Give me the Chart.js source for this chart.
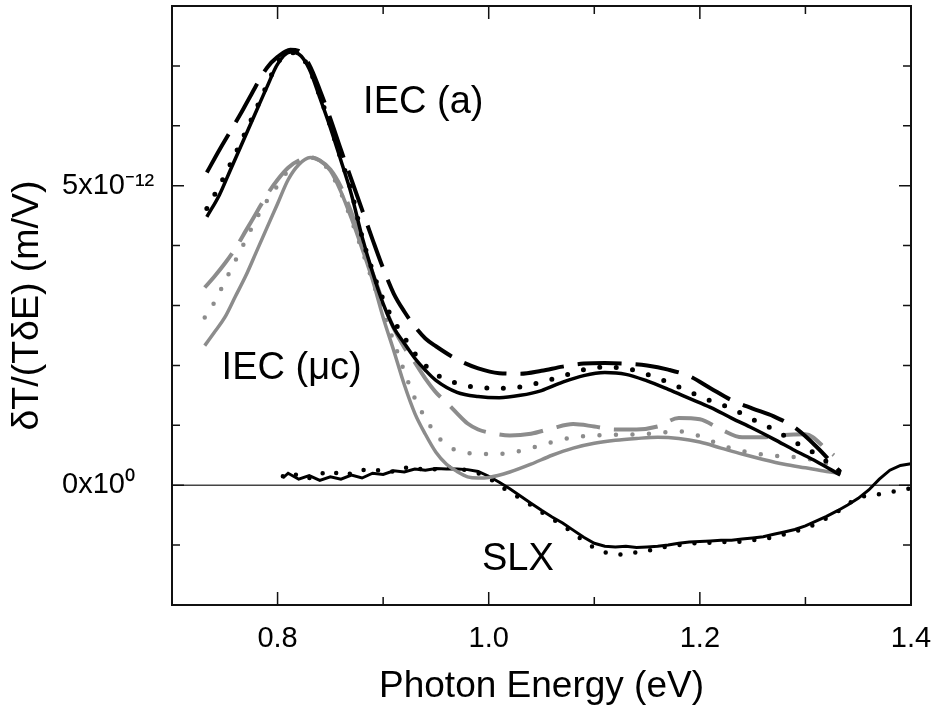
<!DOCTYPE html>
<html><head><meta charset="utf-8">
<script src="https://cdn.jsdelivr.net/npm/chart.js@4/dist/chart.umd.min.js"></script>
<style>html,body{margin:0;padding:0;background:#fff}#wrap{position:relative;width:935px;height:721px}</style>
</head><body><div id="wrap"><canvas id="c" width="935" height="721"></canvas></div>
<script>
// Values in units of 1e-12 m/V (axis labelled 0x10^0 and 5x10^-12)
const blackE = [0.733,0.745,0.755,0.765,0.775,0.79,0.80,0.812,0.82,0.83,0.84,0.85,0.86,0.87,0.88,0.89,0.90,0.91,0.92,0.93,0.94,0.95,0.97,0.99,1.01,1.03,1.05,1.07,1.09,1.11,1.13,1.15,1.17,1.19,1.21,1.23,1.25,1.27,1.29,1.31,1.333];
const iecA_solid  = [4.48,4.85,5.25,5.65,6.05,6.65,7.03,7.23,7.20,6.95,6.47,5.97,5.42,4.85,4.15,3.55,3.03,2.63,2.37,2.12,1.92,1.75,1.55,1.48,1.46,1.50,1.58,1.72,1.83,1.88,1.85,1.74,1.60,1.45,1.30,1.12,0.95,0.77,0.58,0.40,0.17];
const iecA_dashed = [5.22,5.60,5.90,6.20,6.52,6.97,7.15,7.27,7.25,7.02,6.60,6.12,5.60,5.10,4.60,4.10,3.62,3.20,2.90,2.65,2.45,2.32,2.10,1.95,1.87,1.86,1.91,1.98,2.03,2.04,2.03,2.00,1.93,1.82,1.62,1.42,1.28,1.15,0.96,0.65,0.22];
const iecA_dotted = [4.62,5.00,5.35,5.72,6.10,6.68,7.05,7.22,7.20,6.95,6.50,6.00,5.45,4.90,4.15,3.58,3.10,2.75,2.47,2.20,2.00,1.85,1.70,1.63,1.62,1.64,1.72,1.82,1.93,1.97,1.95,1.85,1.72,1.56,1.41,1.28,1.10,0.93,0.72,0.52,0.22];

const grayE = [0.731,0.74,0.75,0.76,0.77,0.78,0.79,0.80,0.81,0.82,0.831,0.84,0.85,0.86,0.87,0.88,0.89,0.90,0.91,0.92,0.93,0.94,0.95,0.96,0.97,0.98,0.99,1.00,1.02,1.04,1.06,1.08,1.10,1.12,1.14,1.16,1.18,1.20,1.22,1.24,1.26,1.28,1.30,1.32,1.333];
const grayDashE = [0.731,0.74,0.75,0.76,0.77,0.78,0.79,0.80,0.81,0.82,0.831,0.84,0.85,0.86,0.87,0.88,0.89,0.90,0.91,0.92,0.93,0.94,0.95,0.96,0.97,0.98,0.99,1.00,1.02,1.04,1.06,1.08,1.10,1.12,1.14,1.16,1.18,1.20,1.22,1.24,1.26,1.28,1.30,1.32,1.327];
const iecMc_solid  = [2.33,2.55,2.80,3.15,3.50,3.90,4.30,4.70,5.10,5.35,5.47,5.42,5.25,4.90,4.45,3.95,3.42,2.80,2.25,1.68,1.20,0.85,0.55,0.35,0.23,0.14,0.12,0.13,0.22,0.35,0.50,0.62,0.70,0.75,0.78,0.80,0.78,0.72,0.62,0.52,0.43,0.35,0.29,0.23,0.20];
const iecMc_dashed = [3.30,3.48,3.70,3.95,4.25,4.55,4.85,5.10,5.30,5.42,5.47,5.42,5.27,4.98,4.55,4.05,3.55,3.05,2.62,2.30,2.05,1.78,1.55,1.38,1.20,1.03,0.93,0.88,0.83,0.86,0.95,1.02,0.98,0.93,0.93,0.98,1.12,1.10,0.93,0.80,0.80,0.84,0.85,0.60,0.50];
const iecMc_dotted = [2.80,3.05,3.40,3.75,4.10,4.45,4.75,5.00,5.25,5.40,5.47,5.42,5.22,4.88,4.42,3.92,3.40,2.90,2.40,1.90,1.45,1.12,0.85,0.67,0.58,0.54,0.52,0.52,0.54,0.62,0.72,0.80,0.83,0.84,0.85,0.87,0.90,0.82,0.67,0.57,0.51,0.48,0.45,0.36,0.30];

const slxE = [0.805,0.81,0.82,0.83,0.84,0.85,0.86,0.87,0.88,0.89,0.90,0.91,0.92,0.93,0.94,0.95,0.96,0.97,0.98,0.99,1.00,1.01,1.02,1.03,1.04,1.05,1.06,1.07,1.08,1.09,1.10,1.11,1.12,1.13,1.14,1.15,1.16,1.17,1.18,1.19,1.20,1.21,1.22,1.23,1.24,1.25,1.26,1.27,1.28,1.29,1.30,1.31,1.32,1.33,1.34,1.35,1.36,1.37,1.38,1.39,1.40];
const slx_solid  = [0.12,0.20,0.10,0.16,0.08,0.14,0.10,0.17,0.12,0.20,0.18,0.24,0.22,0.27,0.25,0.28,0.27,0.27,0.26,0.23,0.15,0.05,-0.06,-0.18,-0.30,-0.42,-0.53,-0.63,-0.75,-0.87,-0.97,-1.02,-1.03,-1.02,-1.04,-1.03,-1.02,-1.00,-0.97,-0.95,-0.94,-0.93,-0.92,-0.92,-0.90,-0.88,-0.86,-0.82,-0.78,-0.74,-0.68,-0.60,-0.52,-0.43,-0.33,-0.22,-0.08,0.10,0.25,0.33,0.36];
const slx_dotted = [0.15,0.10,0.20,0.12,0.22,0.15,0.25,0.18,0.26,0.22,0.28,0.22,0.30,0.24,0.30,0.26,0.30,0.28,0.25,0.20,0.12,0.00,-0.12,-0.22,-0.33,-0.45,-0.56,-0.67,-0.80,-0.93,-1.05,-1.12,-1.16,-1.15,-1.12,-1.10,-1.05,-1.02,-1.00,-0.98,-0.96,-0.96,-0.95,-0.95,-0.94,-0.92,-0.90,-0.87,-0.82,-0.77,-0.72,-0.65,-0.55,-0.45,-0.32,-0.20,-0.17,-0.15,-0.12,-0.08,-0.05];

const xTickLabels = ['0.8','1.0','1.2','1.4'];
const yTickValues = [0, 5];
const yTickTexts  = ['0x10\u2070', '5x10\u207B\u00B9\u00B2'];
const seriesNotes = ['IEC (a)', 'IEC (\u03BCc)', 'SLX'];

const FONT = "'Liberation Sans', Arial, Helvetica, sans-serif";
const BLACK = '#000000', GRAY = '#8c8c8c';

function pts(E, V) { return E.map((e, i) => ({x: e, y: V[i]})); }

const noteAnchors = [ {x: 0.881, y: 6.22}, {x: 0.747, y: 1.78}, {x: 0.9936, y: -1.42} ];

const framePlugin = {
  id: 'frame',
  beforeDatasetsDraw(chart) {
    const {ctx, chartArea: a, scales: {y}} = chart;
    const y0 = y.getPixelForValue(0);
    ctx.save();
    ctx.strokeStyle = '#444'; ctx.lineWidth = 1.5;
    ctx.beginPath(); ctx.moveTo(a.left, y0); ctx.lineTo(a.right, y0); ctx.stroke();
    ctx.restore();
  },
  afterDatasetsDraw(chart) {
    const {ctx, chartArea: a, scales: {x, y}} = chart;
    ctx.save();
    ctx.lineWidth = 2;
    ctx.strokeStyle = '#111';
    ctx.strokeRect(a.left, a.top, a.right - a.left, a.bottom - a.top);
    ctx.lineWidth = 1.5;
    x.ticks.forEach(t => {
      const px = x.getPixelForValue(t.value);
      const major = xTickLabels.includes((Math.round(t.value * 10) / 10).toFixed(1));
      const L = major ? 13 : 8;
      ctx.beginPath();
      ctx.moveTo(px, a.bottom); ctx.lineTo(px, a.bottom - L);
      ctx.moveTo(px, a.top); ctx.lineTo(px, a.top + L);
      ctx.stroke();
    });
    y.ticks.forEach(t => {
      const py = y.getPixelForValue(t.value);
      const major = yTickValues.includes(Math.round(t.value));
      const L = major ? 12 : 8;
      ctx.beginPath();
      ctx.moveTo(a.left, py); ctx.lineTo(a.left + L, py);
      ctx.moveTo(a.right, py); ctx.lineTo(a.right - L, py);
      ctx.stroke();
    });
    // curve annotations
    ctx.fillStyle = '#000';
    ctx.font = '38px ' + FONT;
    ctx.textAlign = 'left'; ctx.textBaseline = 'alphabetic';
    seriesNotes.forEach((s, i) => {
      ctx.fillText(s, x.getPixelForValue(noteAnchors[i].x), y.getPixelForValue(noteAnchors[i].y));
    });
    ctx.restore();
  },
  afterDraw(chart) {
    const {ctx, chartArea: a} = chart;
    ctx.save();
    ctx.translate(28, (a.top + a.bottom) / 2);
    ctx.rotate(-Math.PI / 2);
    ctx.fillStyle = '#000';
    ctx.font = '37.5px ' + FONT;
    ctx.textAlign = 'center'; ctx.textBaseline = 'middle';
    ctx.fillText('\u03B4T/(T\u03B4E) (m/V)', 0, 0);
    ctx.restore();
  }
};

const lineBase = { pointRadius: 0, fill: false, cubicInterpolationMode: 'monotone' };

const datasets = [
  Object.assign({}, lineBase, {label: 'IEC (a) solid', data: pts(blackE, iecA_solid), borderColor: BLACK, borderWidth: 3.5}),
  Object.assign({}, lineBase, {label: 'IEC (a) dashed', data: pts(blackE, iecA_dashed), borderColor: BLACK, borderWidth: 4, borderDash: [44, 14]}),
  Object.assign({}, lineBase, {label: 'IEC (a) dotted', data: pts(blackE, iecA_dotted), borderColor: BLACK, borderWidth: 5, borderDash: [0, 16.5], borderCapStyle: 'round'}),
  Object.assign({}, lineBase, {label: 'IEC (\u03BCc) solid', data: pts(grayE, iecMc_solid), borderColor: GRAY, borderWidth: 3.5}),
  Object.assign({}, lineBase, {label: 'IEC (\u03BCc) dashed', data: pts(grayDashE, iecMc_dashed), borderColor: GRAY, borderWidth: 4, borderDash: [44, 14]}),
  Object.assign({}, lineBase, {label: 'IEC (\u03BCc) dotted', data: pts(grayE, iecMc_dotted), borderColor: GRAY, borderWidth: 4.5, borderDash: [0, 16.5], borderCapStyle: 'round'}),
  {label: 'SLX solid', data: pts(slxE, slx_solid), borderColor: BLACK, borderWidth: 3, pointRadius: 0, fill: false, tension: 0},
  {label: 'SLX dotted', data: pts(slxE, slx_dotted), borderColor: BLACK, borderWidth: 4.5, borderDash: [0, 15], borderCapStyle: 'round', pointRadius: 0, fill: false, tension: 0}
];

new Chart(document.getElementById('c'), {
  type: 'line',
  data: { datasets },
  options: {
    responsive: false,
    animation: false,
    devicePixelRatio: 1,
    layout: { padding: { left: 62, top: 6, right: 24, bottom: 0 } },
    plugins: { legend: { display: false }, tooltip: { enabled: false } },
    scales: {
      x: {
        type: 'linear', min: 0.7, max: 1.4,
        grid: { display: false, drawTicks: false },
        border: { display: false },
        ticks: {
          stepSize: 0.1, autoSkip: false, maxRotation: 0, padding: 17, color: '#000',
          font: { family: FONT, size: 29 },
          callback: v => { const s = (Math.round(v * 10) / 10).toFixed(1); return xTickLabels.includes(s) ? s : ''; }
        },
        title: { display: true, text: 'Photon Energy (eV)', color: '#000', font: { family: FONT, size: 37 }, padding: { top: 0, bottom: 12 } },
        afterFit: s => { s.height = 116; s.paddingLeft = 0; s.paddingRight = 0; }
      },
      y: {
        type: 'linear', min: -2, max: 8,
        grid: { display: false, drawTicks: false },
        border: { display: false },
        ticks: {
          stepSize: 1, autoSkip: false, crossAlign: 'far', padding: 15, color: '#000',
          font: { family: FONT, size: 29 },
          callback: v => { const i = yTickValues.indexOf(Math.round(v)); return (i >= 0 && Math.abs(v - Math.round(v)) < 1e-9) ? yTickTexts[i] : ''; }
        },
        afterFit: s => { s.width = 110; s.paddingTop = 0; s.paddingBottom = 0; }
      }
    }
  },
  plugins: [framePlugin]
});
</script></body></html>
